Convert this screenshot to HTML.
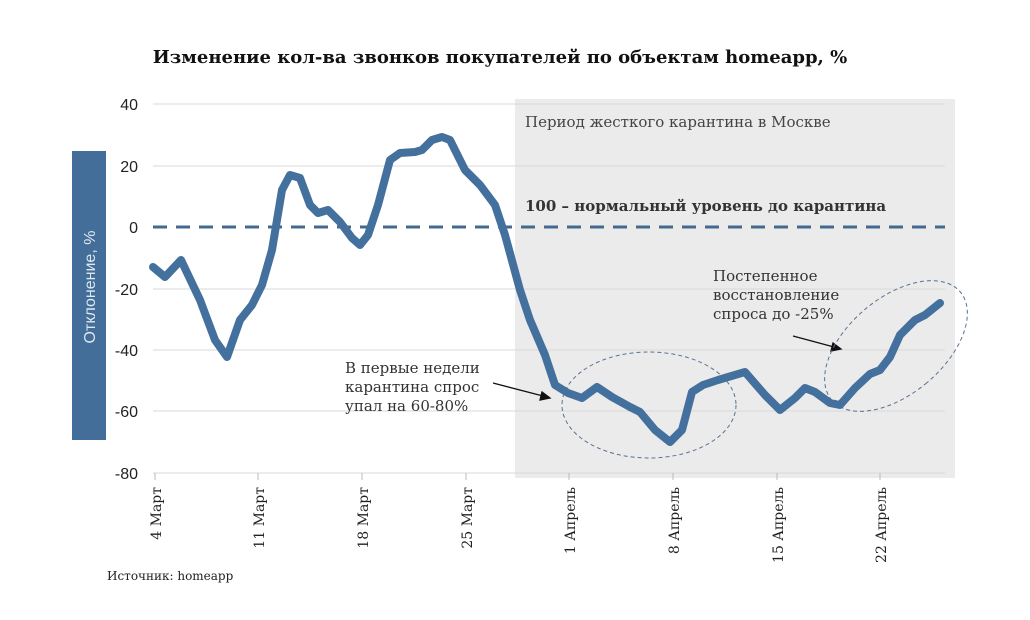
<!DOCTYPE html>
<html><head><meta charset="utf-8"><style>
body{margin:0;background:#fff;}
svg text{font-family:"DejaVu Serif","Liberation Serif",serif;}
svg .s{font-family:"Liberation Sans",sans-serif;}
</style></head><body>
<svg width="1030" height="615" viewBox="0 0 1030 615" xmlns="http://www.w3.org/2000/svg">
<rect width="1030" height="615" fill="#fff"/>
<text x="500" y="63" text-anchor="middle" font-size="18" font-weight="bold" fill="#111">Изменение кол-ва звонков покупателей по объектам homeapp, %</text>
<rect x="515" y="99" width="440" height="379" fill="#ebebeb"/>
<g stroke="#d9d9d9" stroke-width="1">
<line x1="153" y1="104" x2="945" y2="104"/>
<line x1="153" y1="166" x2="945" y2="166"/>
<line x1="153" y1="289" x2="945" y2="289"/>
<line x1="153" y1="350" x2="945" y2="350"/>
<line x1="153" y1="411" x2="945" y2="411"/>
<line x1="153" y1="473" x2="945" y2="473"/>
</g>
<g stroke="#bbb" stroke-width="1">
<line x1="155" y1="473" x2="155" y2="480"/><line x1="258" y1="473" x2="258" y2="480"/><line x1="362" y1="473" x2="362" y2="480"/><line x1="466" y1="473" x2="466" y2="480"/><line x1="569" y1="473" x2="569" y2="480"/><line x1="673" y1="473" x2="673" y2="480"/><line x1="777" y1="473" x2="777" y2="480"/><line x1="880" y1="473" x2="880" y2="480"/>
</g>
<line x1="153" y1="227" x2="945" y2="227" stroke="#44698f" stroke-width="3" stroke-dasharray="14,9"/>
<g class="s" font-size="16" fill="#222" text-anchor="end">
<text class="s" x="138" y="110">40</text><text class="s" x="138" y="172">20</text><text class="s" x="138" y="233">0</text><text class="s" x="138" y="295">-20</text><text class="s" x="138" y="356">-40</text><text class="s" x="138" y="417">-60</text><text class="s" x="138" y="479">-80</text>
</g>
<g font-size="14" fill="#222" text-anchor="end">
<text transform="translate(161,487) rotate(-90)">4 Март</text>
<text transform="translate(264,487) rotate(-90)">11 Март</text>
<text transform="translate(368,487) rotate(-90)">18 Март</text>
<text transform="translate(472,487) rotate(-90)">25 Март</text>
<text transform="translate(575,487) rotate(-90)">1 Апрель</text>
<text transform="translate(679,487) rotate(-90)">8 Апрель</text>
<text transform="translate(783,487) rotate(-90)">15 Апрель</text>
<text transform="translate(886,487) rotate(-90)">22 Апрель</text>
</g>
<rect x="72" y="151" width="34" height="289" fill="#436e99"/>
<text class="s" transform="translate(95,287) rotate(-90)" text-anchor="middle" font-size="16" fill="#dfe7f0">Отклонение, %</text>
<text x="525" y="127" font-size="15" fill="#444">Период жесткого карантина в Москве</text>
<text x="525" y="211" font-size="15" font-weight="bold" fill="#333">100 – нормальный уровень до карантина</text>
<g font-size="15" fill="#333">
<text x="345" y="373">В первые недели</text><text x="345" y="392">карантина спрос</text><text x="345" y="411">упал на 60-80%</text>
<text x="713" y="281">Постепенное</text><text x="713" y="300">восстановление</text><text x="713" y="319">спроса до -25%</text>
</g>
<g stroke="#111" stroke-width="1.3" fill="#111">
<line x1="493" y1="383" x2="543" y2="396"/><polygon points="550,398 540,400 542,392"/>
<line x1="793" y1="336" x2="834" y2="347"/><polygon points="841,349 831,351 833,343"/>
</g>
<g fill="none" stroke="#5a7290" stroke-width="1" stroke-dasharray="4,3">
<ellipse cx="649" cy="405" rx="87" ry="53"/>
<ellipse cx="896" cy="346" rx="48" ry="84" transform="rotate(50 896 346)"/>
</g>
<polyline fill="none" stroke="#44709e" stroke-width="8" stroke-linejoin="round" stroke-linecap="round" points="153,267 165,277 181,260 200,300 215,340 227,357 240,320 252,305 262,285 272,250 282,190 290,175 300,178 310,205 318,213 328,210 340,222 352,238 360,245 368,235 378,205 390,160 400,153 415,152 422,150 432,140 442,137 450,140 465,170 480,185 495,205 505,235 520,290 530,320 545,355 555,385 568,393 582,398 597,387 612,397 630,407 640,412 655,430 670,442 682,430 692,392 703,385 718,380 745,372 765,395 780,410 795,398 805,388 815,392 830,403 840,405 855,388 870,374 880,370 890,357 900,335 915,320 925,315 940,303"/>
<text x="107" y="580" font-size="12" fill="#222">Источник: homeapp</text>
</svg>
</body></html>
